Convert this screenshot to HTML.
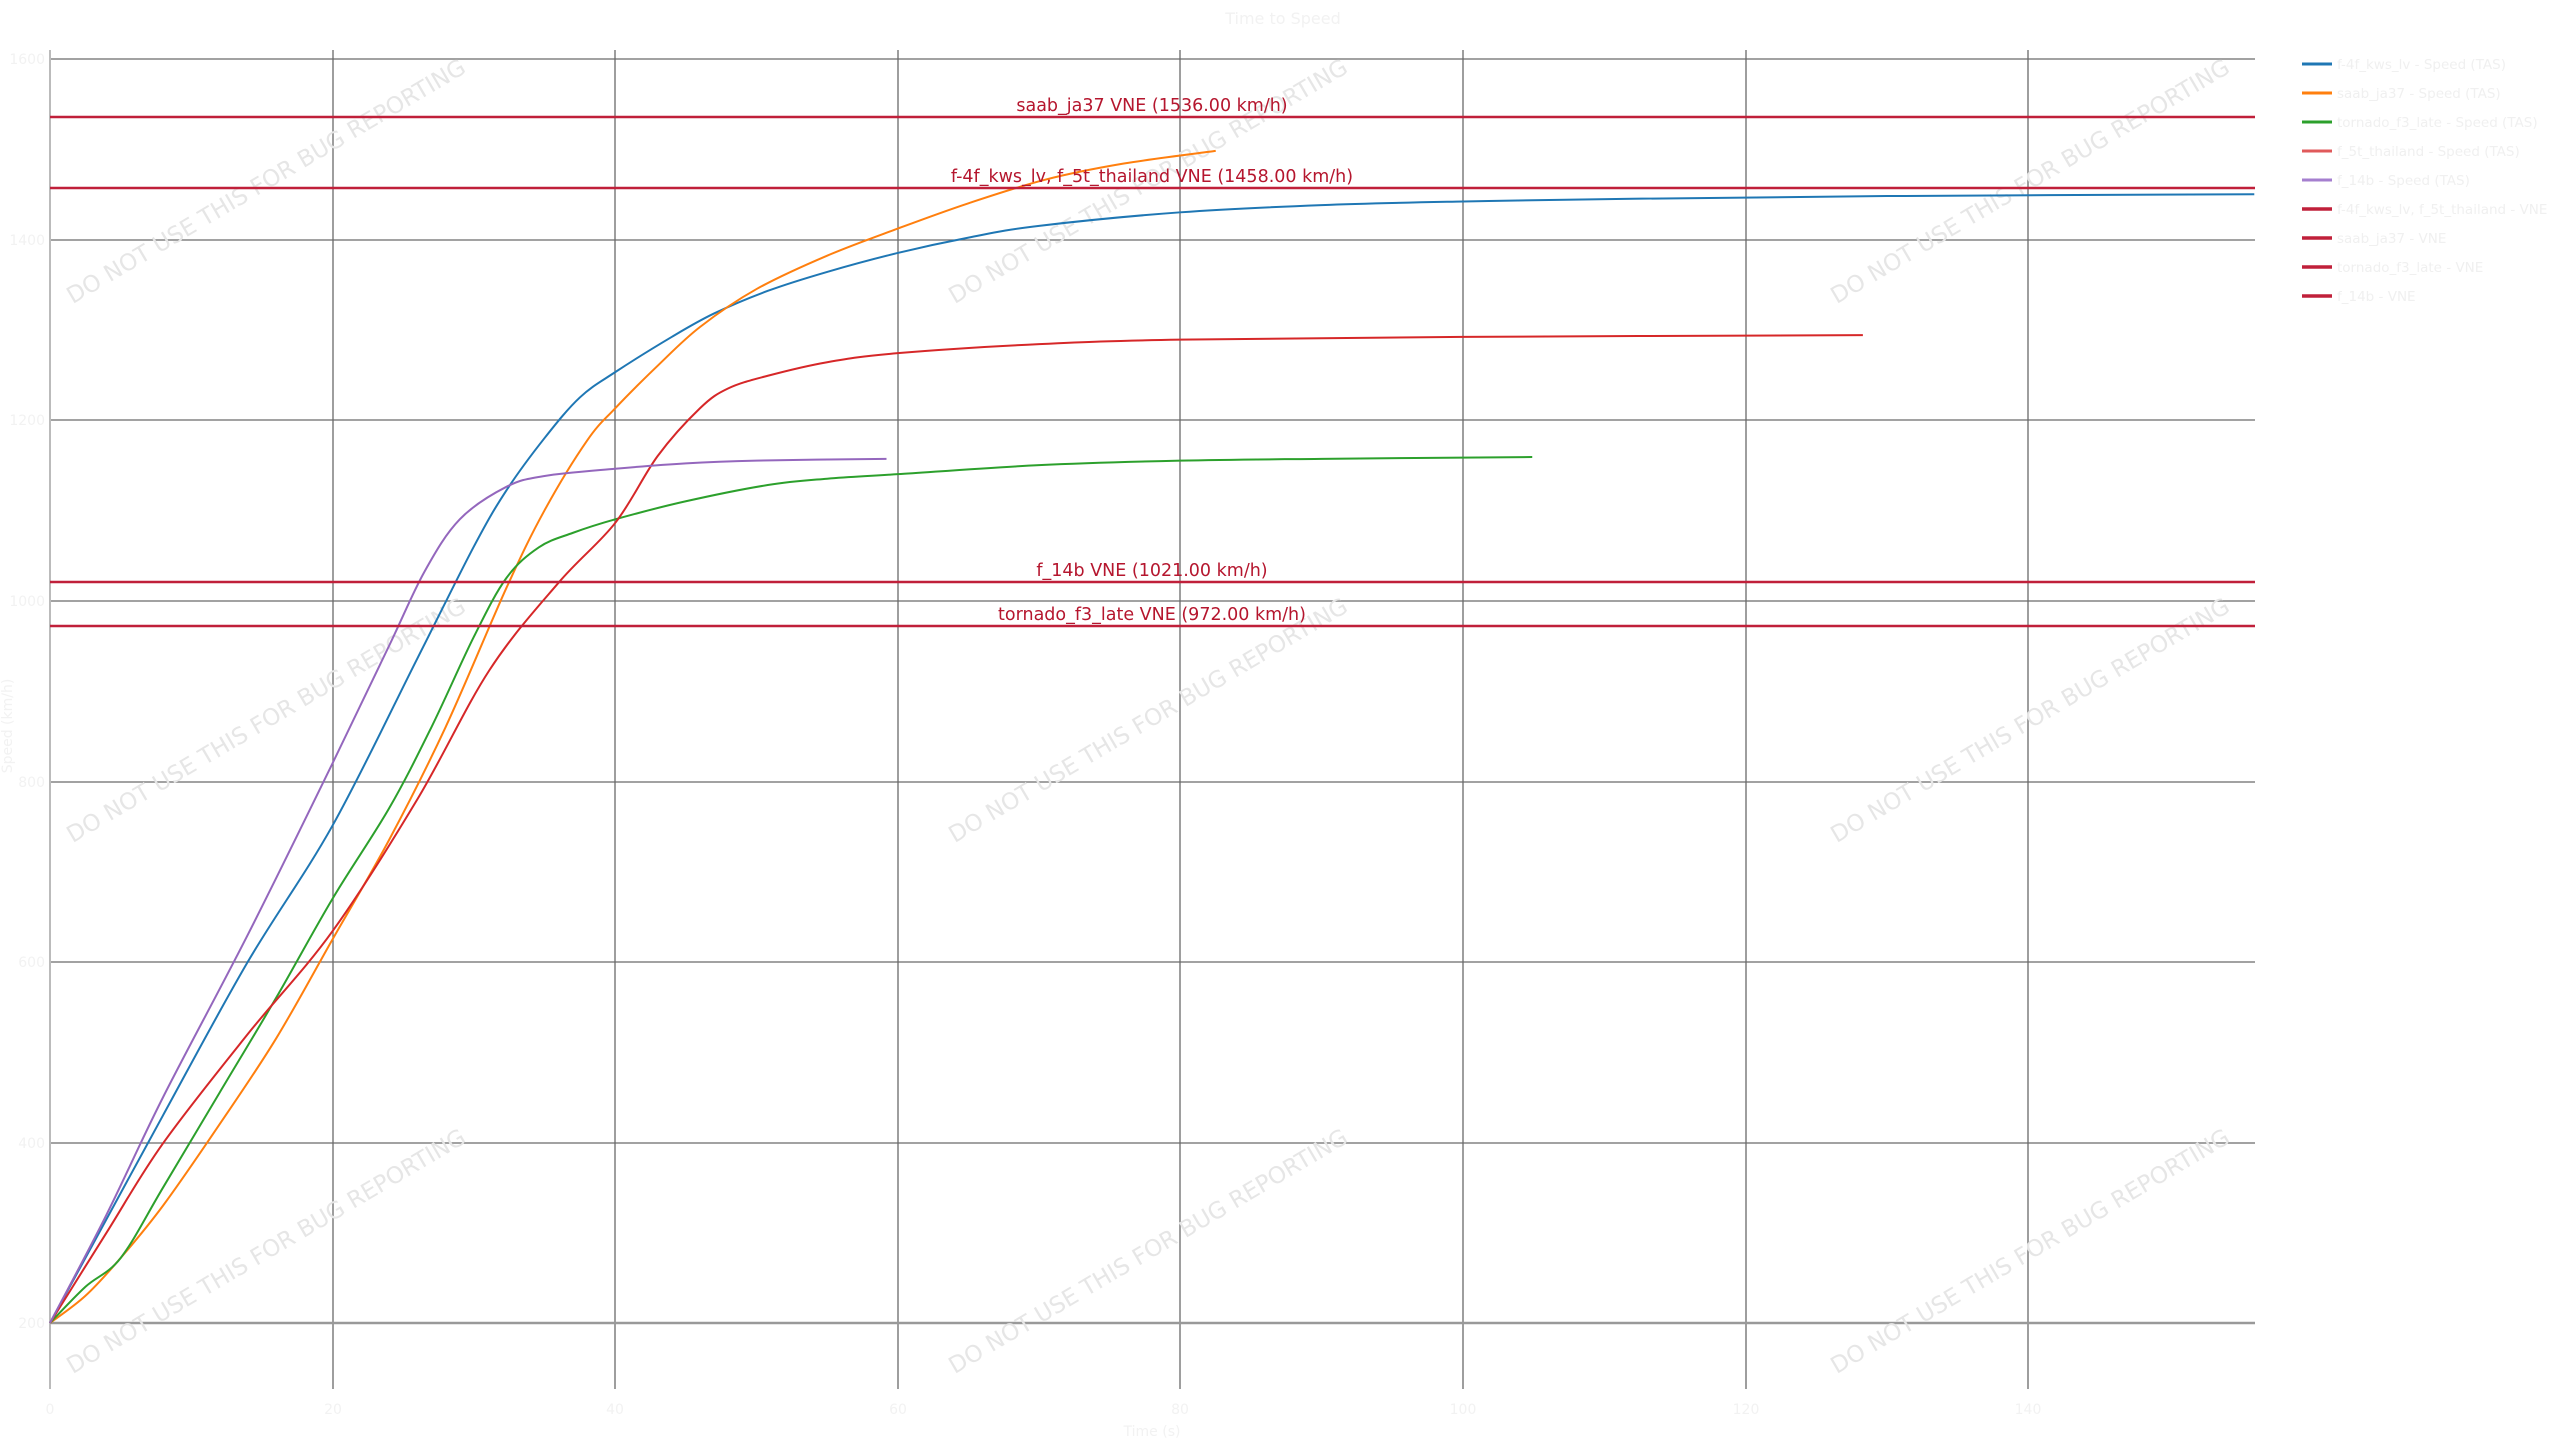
<!DOCTYPE html>
<html><head><meta charset="utf-8"><style>
html,body{margin:0;padding:0;background:#fff;}
svg{display:block;}
</style></head><body>
<svg id="s" width="2560" height="1440" xmlns="http://www.w3.org/2000/svg" font-family="'DejaVu Sans','Liberation Sans',sans-serif">
<rect width="2560" height="1440" fill="#fff"/>
<g stroke="#6a6a6a" stroke-width="1.3">
<line x1="333" y1="50" x2="333" y2="1389"/>
<line x1="615" y1="50" x2="615" y2="1389"/>
<line x1="898" y1="50" x2="898" y2="1389"/>
<line x1="1180" y1="50" x2="1180" y2="1389"/>
<line x1="1463" y1="50" x2="1463" y2="1389"/>
<line x1="1746" y1="50" x2="1746" y2="1389"/>
<line x1="2028" y1="50" x2="2028" y2="1389"/>
<line x1="50" y1="59" x2="2255" y2="59"/>
<line x1="50" y1="240" x2="2255" y2="240"/>
<line x1="50" y1="420" x2="2255" y2="420"/>
<line x1="50" y1="601" x2="2255" y2="601"/>
<line x1="50" y1="782" x2="2255" y2="782"/>
<line x1="50" y1="962" x2="2255" y2="962"/>
<line x1="50" y1="1143" x2="2255" y2="1143"/>
</g>
<line x1="50" y1="1323" x2="2255" y2="1323" stroke="#999" stroke-width="2.5"/>
<line x1="50" y1="50" x2="50" y2="1389" stroke="#bbb" stroke-width="2"/>
<g fill="#e6e6e6" font-size="23" text-anchor="middle">
<text transform="translate(270,188) rotate(-30.5)">DO NOT USE THIS FOR BUG REPORTING</text>
<text transform="translate(1152,188) rotate(-30.5)">DO NOT USE THIS FOR BUG REPORTING</text>
<text transform="translate(2034,188) rotate(-30.5)">DO NOT USE THIS FOR BUG REPORTING</text>
<text transform="translate(270,727) rotate(-30.5)">DO NOT USE THIS FOR BUG REPORTING</text>
<text transform="translate(1152,727) rotate(-30.5)">DO NOT USE THIS FOR BUG REPORTING</text>
<text transform="translate(2034,727) rotate(-30.5)">DO NOT USE THIS FOR BUG REPORTING</text>
<text transform="translate(270,1258) rotate(-30.5)">DO NOT USE THIS FOR BUG REPORTING</text>
<text transform="translate(1152,1258) rotate(-30.5)">DO NOT USE THIS FOR BUG REPORTING</text>
<text transform="translate(2034,1258) rotate(-30.5)">DO NOT USE THIS FOR BUG REPORTING</text>
</g>
<g id="series" transform="translate(50,1503.6) scale(14.13,-0.903)" fill="none" stroke-width="2" stroke-linejoin="round">
<polyline vector-effect="non-scaling-stroke" stroke="#1f77b4" points="0,200 4,315 8,430 14,600 20,751 26,936 30,1060 32.3,1122 35,1180 37.5,1225 40,1253 44,1292 47,1318 50.8,1343 55,1364 60,1385 65,1402 70,1415 80,1430 90,1438 100,1442 112,1445 130,1448 156,1450"/>
<polyline vector-effect="non-scaling-stroke" stroke="#ff7f0e" points="0,200 2.5,230 5,272 8,330 12,420 16,515 20,625 24,735 28,860 32.3,1014 35,1100 38,1177 40,1213 43,1260 46,1303 50,1345 55,1382 60,1412 65,1440 70.4,1466 76,1484 82.5,1498"/>
<polyline vector-effect="non-scaling-stroke" stroke="#2ca02c" points="0,200 2.5,240 5,272 8,350 12,455 16,560 20,670 24,770 27,860 30,960 32.3,1025 34.6,1059 37,1075 40,1090 45,1110 50.8,1128 55,1135 60,1140 70,1150 80,1155 90,1157 104.9,1159"/>
<polyline vector-effect="non-scaling-stroke" stroke="#d62728" points="0,200 4,300 8,399 14,520 20,634 26,780 31.1,923 36,1020 40,1086 43,1160 46,1213 48,1235 50.8,1249 55,1264 60,1274 70,1284 80,1289 100,1292 128.3,1294"/>
<polyline vector-effect="non-scaling-stroke" stroke="#9467bd" points="0,200 4,320 8,450 14,630 20,820 24,950 26.5,1032 29,1090 32.3,1126 35,1138 40,1146 45,1152 50,1155 59.2,1157"/>
</g>
<g stroke="#c0203a" stroke-width="2.5">
<line x1="50" y1="117" x2="2255" y2="117"/>
<line x1="50" y1="188" x2="2255" y2="188"/>
<line x1="50" y1="582" x2="2255" y2="582"/>
<line x1="50" y1="626" x2="2255" y2="626"/>
</g>
<g fill="#b5162e" font-size="17.5" text-anchor="middle">
<text x="1152" y="111">saab_ja37 VNE (1536.00 km/h)</text>
<text x="1152" y="182">f-4f_kws_lv, f_5t_thailand VNE (1458.00 km/h)</text>
<text x="1152" y="576">f_14b VNE (1021.00 km/h)</text>
<text x="1152" y="620">tornado_f3_late VNE (972.00 km/h)</text>
</g>
<g fill="#f2f2f2" font-size="14">
<g text-anchor="end">
<text x="45" y="64">1600</text><text x="45" y="245">1400</text><text x="45" y="425">1200</text>
<text x="45" y="606">1000</text><text x="45" y="787">800</text><text x="45" y="967">600</text>
<text x="45" y="1148">400</text><text x="45" y="1328">200</text>
</g>
<g text-anchor="middle">
<text x="50" y="1414">0</text><text x="333" y="1414">20</text><text x="615" y="1414">40</text>
<text x="898" y="1414">60</text><text x="1180" y="1414">80</text><text x="1463" y="1414">100</text>
<text x="1746" y="1414">120</text><text x="2028" y="1414">140</text>
<text x="1152" y="1436">Time (s)</text>
<text x="1283" y="24" font-size="16">Time to Speed</text>
<text transform="translate(12,726) rotate(-90)">Speed (km/h)</text>
</g>
</g>
<g stroke-width="3">
<line x1="2302" y1="64" x2="2332" y2="64" stroke="#1f77b4"/>
<line x1="2302" y1="93" x2="2332" y2="93" stroke="#ff7f0e"/>
<line x1="2302" y1="122" x2="2332" y2="122" stroke="#2ca02c"/>
<line x1="2302" y1="151" x2="2332" y2="151" stroke="#e05a5b"/>
<line x1="2302" y1="180" x2="2332" y2="180" stroke="#a57fcf"/>
<line x1="2302" y1="209" x2="2332" y2="209" stroke="#c0203a" stroke-width="3.5"/>
<line x1="2302" y1="238" x2="2332" y2="238" stroke="#c0203a" stroke-width="3.5"/>
<line x1="2302" y1="267" x2="2332" y2="267" stroke="#c0203a" stroke-width="3.5"/>
<line x1="2302" y1="296" x2="2332" y2="296" stroke="#c0203a" stroke-width="3.5"/>
</g>
<g fill="#f0f0f0" font-size="13.5">
<text x="2337" y="69">f-4f_kws_lv - Speed (TAS)</text>
<text x="2337" y="98">saab_ja37 - Speed (TAS)</text>
<text x="2337" y="127">tornado_f3_late - Speed (TAS)</text>
<text x="2337" y="156">f_5t_thailand - Speed (TAS)</text>
<text x="2337" y="185">f_14b - Speed (TAS)</text>
<text x="2337" y="214">f-4f_kws_lv, f_5t_thailand - VNE</text>
<text x="2337" y="243">saab_ja37 - VNE</text>
<text x="2337" y="272">tornado_f3_late - VNE</text>
<text x="2337" y="301">f_14b - VNE</text>
</g>
</svg>
<script>
(function(){
var NS="http://www.w3.org/2000/svg";
var pls=document.querySelectorAll("#series polyline");
for(var i=0;i<pls.length;i++){
 var pl=pls[i];
 var p=pl.getAttribute("points").trim().split(/\s+/).map(function(s){var a=s.split(",");return[+a[0],+a[1]];});
 var d="M"+p[0][0]+","+p[0][1];
 for(var k=0;k<p.length-1;k++){
  var p0=p[k-1]||p[k],p1=p[k],p2=p[k+1],p3=p[k+2]||p[k+1];
  var c1x=p1[0]+(p2[0]-p0[0])/6,c1y=p1[1]+(p2[1]-p0[1])/6;
  var c2x=p2[0]-(p3[0]-p1[0])/6,c2y=p2[1]-(p3[1]-p1[1])/6;
  d+=" C"+c1x+","+c1y+" "+c2x+","+c2y+" "+p2[0]+","+p2[1];
 }
 var path=document.createElementNS(NS,"path");
 path.setAttribute("d",d);
 path.setAttribute("stroke",pl.getAttribute("stroke"));
 path.setAttribute("vector-effect","non-scaling-stroke");
 pl.parentNode.replaceChild(path,pl);
}
})();
</script>
</body></html>
